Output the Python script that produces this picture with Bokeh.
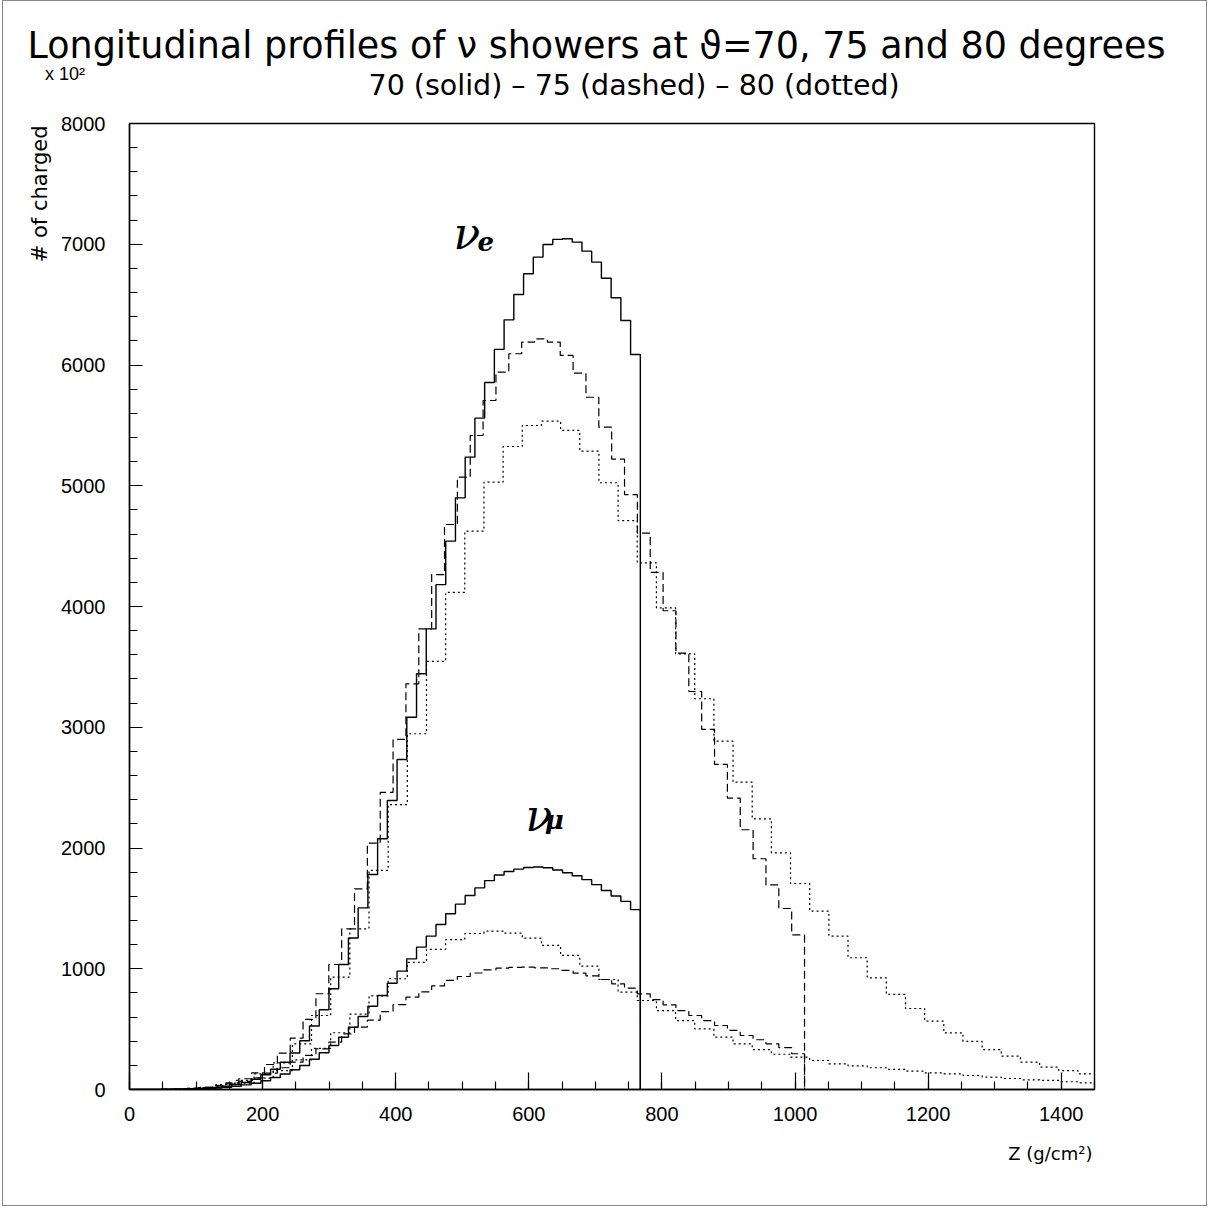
import numpy as np
from bokeh.plotting import figure
from bokeh.models import Range1d, FixedTicker, Label, Title
from bokeh.embed import file_html
from bokeh.resources import INLINE

# Bin widths in slant depth (g/cm^2): 5 g/cm^2 vertical / cos(theta)
bin_width_70 = 14.62
bin_width_75 = 19.32
bin_width_80 = 28.79

# nu_e showers (# of charged, x 10^2), one value per bin
nue_70 = [0, 0, 0, 1, 2, 3, 5, 8, 12, 18, 27, 40, 58, 85, 122, 168, 226, 302, 404, 526,
          661, 834, 1035, 1255, 1504, 1780, 2076, 2393, 2733, 3083, 3443, 3815, 4181, 4541,
          4900, 5237, 5560, 5855, 6129, 6374, 6584, 6756, 6893, 6998, 7040, 7045, 7018, 6943,
          6852, 6719, 6557, 6369, 6087]
nue_75 = [0, 0, 0, 1, 4, 9, 18, 33, 55, 89, 138, 207, 301, 425, 580, 793, 1035, 1331, 1662,
          2040, 2460, 2899, 3360, 3815, 4264, 4679, 5071, 5416, 5706, 5941, 6093, 6190, 6217,
          6190, 6079, 5932, 5733, 5485, 5220, 4927, 4608, 4282, 3965, 3614, 3296, 2982, 2692,
          2413, 2151, 1911, 1694, 1499, 1281]
nue_80 = [0, 0, 1, 5, 15, 40, 75, 130, 221, 378, 613, 930, 1331, 1814, 2360, 2946, 3545, 4117,
          4624, 5030, 5325, 5499, 5535, 5458, 5286, 5025, 4712, 4362, 3988, 3608, 3236, 2885,
          2545, 2242, 1960, 1706, 1477, 1270, 1091, 925, 787, 671, 566, 469, 398, 331, 276,
          226, 185, 157, 130]

# nu_mu showers
numu_70 = [0, 0, 0, 0, 1, 2, 3, 5, 8, 12, 18, 27, 38, 52, 72, 100, 128, 163, 199, 250, 304,
           364, 433, 516, 605, 690, 778, 880, 980, 1082, 1179, 1270, 1367, 1455, 1535, 1607,
           1670, 1730, 1776, 1805, 1825, 1838, 1843, 1837, 1818, 1795, 1770, 1738, 1697, 1648,
           1603, 1558, 1490]
numu_75 = [0, 0, 0, 1, 4, 9, 17, 29, 46, 68, 97, 135, 180, 226, 282, 337, 392, 461, 516, 574,
           645, 703, 765, 809, 858, 903, 936, 965, 990, 1005, 1012, 1013, 1008, 1000, 986, 963,
           941, 911, 875, 839, 792, 745, 701, 654, 613, 571, 530, 489, 447, 412, 378, 346, 296]
numu_80 = [0, 0, 0, 2, 8, 25, 52, 94, 157, 245, 340, 470, 624, 775, 917, 1053, 1160, 1241,
           1292, 1312, 1295, 1253, 1193, 1110, 1021, 911, 806, 737, 654, 571, 502, 433, 378,
           330, 292, 268, 240, 213, 196, 180, 166, 152, 138, 130, 116, 102, 91, 80, 75, 64, 55]

x_ticks = [0, 200, 400, 600, 800, 1000, 1200, 1400]
y_ticks = [0, 1000, 2000, 3000, 4000, 5000, 6000, 7000, 8000]


def step_xy(values, width, drop):
    n = len(values)
    edges = (np.arange(n + 1) - 0.5) * width
    xs, ys = [], []
    for i, v in enumerate(values):
        xs += [edges[i], edges[i + 1]]
        ys += [v, v]
    if drop:
        xs.append(edges[-1])
        ys.append(0)
    return xs, ys


p = figure(width=1205, height=1206, x_range=Range1d(0, 1450), y_range=Range1d(0, 8000),
           output_backend="svg", toolbar_location=None, title=None,
           min_border_left=124, min_border_right=114, min_border_top=122, min_border_bottom=118)
p.grid.visible = False
p.outline_line_color = "black"
p.outline_line_width = 1.4
p.outline_line_alpha = 1.0
p.styles = {"border": "1px solid #888", "margin-left": "2px"}

series = [
    (nue_70, bin_width_70, True, "solid", 1.4),
    (numu_70, bin_width_70, True, "solid", 1.4),
    (nue_75, bin_width_75, True, "8 4", 1.2),
    (numu_75, bin_width_75, True, "8 4", 1.2),
    (nue_80, bin_width_80, False, "2 3", 1.2),
    (numu_80, bin_width_80, False, "2 3", 1.2),
]
for vals, w, drop, dash, lw in series:
    xs, ys = step_xy(vals, w, drop)
    p.line(xs, ys, line_color="black", line_width=lw, line_dash=dash)

for ax in (p.xaxis[0], p.yaxis[0]):
    ax.axis_line_width = 1.4
    ax.axis_line_color = "black"
    ax.major_tick_line_color = "black"
    ax.minor_tick_line_color = "black"
    ax.major_tick_line_width = 1.2
    ax.minor_tick_line_width = 1.2
    ax.major_tick_out = 0
    ax.minor_tick_out = 0
    ax.major_label_text_font = "Liberation Sans"
    ax.major_label_text_font_size = "20px"
    ax.major_label_text_color = "black"

p.xaxis.ticker = FixedTicker(ticks=x_ticks, minor_ticks=list(range(0, 1451, 50)))
p.yaxis.ticker = FixedTicker(ticks=y_ticks, minor_ticks=list(range(0, 8001, 200)))
p.xaxis.major_tick_in = 17
p.xaxis.minor_tick_in = 8
p.yaxis.major_tick_in = 13
p.yaxis.minor_tick_in = 8
p.xaxis.major_label_standoff = 17
p.yaxis.major_label_standoff = 24

FONT = "DejaVu Sans"


def ttl(text, size, standoff, align="left", offset=0, valign="middle", font=FONT):
    return Title(text=text, text_font=font, text_font_size=size, text_font_style="normal",
                 text_color="black", align=align, offset=offset, standoff=standoff,
                 vertical_align=valign)


# above: first one is nearest to the frame
p.add_layout(ttl("70 (solid) \u2013 75 (dashed) \u2013 80 (dotted)", "28.5px", 41.8, offset=239), "above")
p.add_layout(ttl("Longitudinal profiles of \u03bd showers at \u03d1=70, 75 and 80 degrees",
                 "36.5px", -42.5, offset=-102), "above")
p.add_layout(ttl(" ", "1px", 16.0), "above")
# exponent of the y axis, placed in the top panel (not clipped by the frame)
p.add_layout(Label(x=-127, y=8406, text="x 10\u00b2", text_align="left", text_baseline="middle",
                   text_font="Liberation Sans", text_font_size="18px", text_color="black"), "above")

# left: y axis title
p.add_layout(ttl("# of charged", "21px", 10.6, align="right", offset=2), "left")
p.add_layout(ttl(" ", "1px", 14.5), "left")

# below: x axis title
p.add_layout(ttl("Z (g/cm\u00b2)", "18px", 36.4, align="right", offset=2), "below")
p.add_layout(ttl(" ", "1px", 15.0), "below")

# shower labels
p.add_layout(Label(x=487, y=7089, text="\u03bd", text_align="left", text_baseline="alphabetic",
                   text_font="DejaVu Serif", text_font_style="italic", text_font_size="44px",
                   text_color="black"))
p.add_layout(Label(x=523, y=7023, text="e", text_align="left", text_baseline="alphabetic",
                   text_font="DejaVu Serif", text_font_style="bold italic", text_font_size="26px",
                   text_color="black"))
p.add_layout(Label(x=595, y=2269, text="\u03bd", text_align="left", text_baseline="alphabetic",
                   text_font="DejaVu Serif", text_font_style="italic", text_font_size="44px",
                   text_color="black"))
p.add_layout(Label(x=624, y=2228, text="\u03bc", text_align="left", text_baseline="alphabetic",
                   text_font="DejaVu Serif", text_font_style="bold italic", text_font_size="26px",
                   text_color="black"))

open("out.html", "w").write(file_html(p, INLINE))
